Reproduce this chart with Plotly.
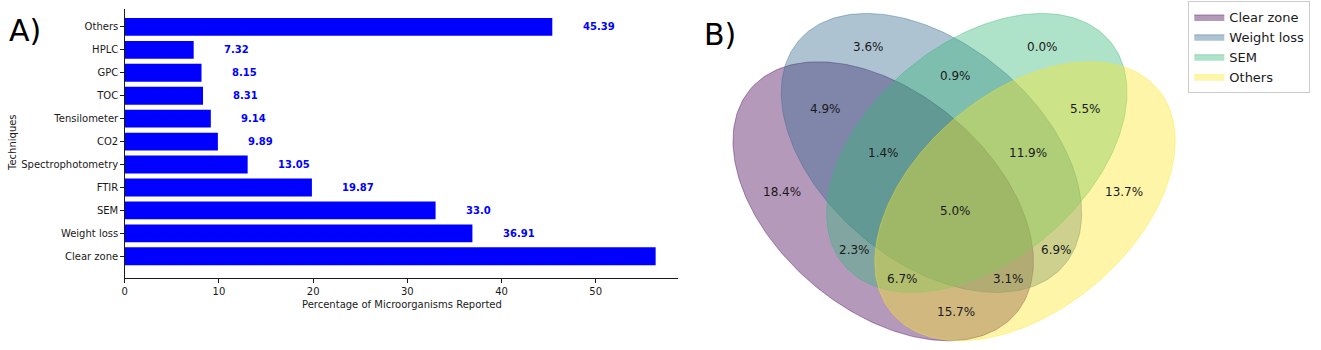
import numpy as np
import plotly.graph_objects as go

# ---- Panel A: techniques used to assess microbial degradation ----
techniques = ["Clear zone", "Weight loss", "SEM", "FTIR", "Spectrophotometry",
              "CO2", "Tensilometer", "TOC", "GPC", "HPLC", "Others"]
percent_reported = [56.36, 36.91, 33.0, 19.87, 13.05, 9.89, 9.14, 8.31, 8.15, 7.32, 45.39]

# ---- Panel B: overlap of the four most used technique groups ----
set_names = ["Clear zone", "Weight loss", "SEM", "Others"]
region_keys = ["1000", "0100", "0010", "0001", "1100", "1010", "1001", "0110",
               "0101", "0011", "1110", "1101", "1011", "0111", "1111"]
region_percent = [18.4, 3.6, 0.0, 13.7, 4.9, 2.3, 15.7, 0.9,
                  6.9, 5.5, 1.4, 3.1, 6.7, 11.9, 5.0]

# four-set ellipse layout in unit axes: (cx, cy, width, height, angle)
ellipse_geom = [(0.350, 0.400, 0.72, 0.45, 140.0),
                (0.450, 0.500, 0.72, 0.45, 140.0),
                (0.544, 0.500, 0.72, 0.45, 40.0),
                (0.644, 0.400, 0.72, 0.45, 40.0)]
region_pos = {"0001": (0.85, 0.42), "0010": (0.68, 0.72), "0011": (0.77, 0.59),
              "0100": (0.32, 0.72), "0101": (0.71, 0.30), "0110": (0.50, 0.66),
              "0111": (0.65, 0.50), "1000": (0.14, 0.42), "1001": (0.50, 0.17),
              "1010": (0.29, 0.30), "1011": (0.39, 0.24), "1100": (0.23, 0.59),
              "1101": (0.61, 0.24), "1110": (0.35, 0.50), "1111": (0.50, 0.38)}
set_rgb = [(68, 1, 84), (49, 104, 142), (53, 183, 121), (253, 231, 37)]

W, H = 1321, 350
FONT = "DejaVu Sans"

fig = go.Figure()

fig.add_trace(go.Bar(
    x=percent_reported, y=techniques, orientation="h",
    marker=dict(color="#0000ff", line=dict(width=0)),
    width=0.78, showlegend=False, hoverinfo="skip",
    xaxis="x", yaxis="y",
))

annotations = []
for name, v in zip(techniques, percent_reported):
    annotations.append(dict(
        x=v + 3, y=name, xref="x", yref="y", text=str(v), showarrow=False,
        xanchor="left", yanchor="middle",
        font=dict(family=FONT, size=10, color="#0000ff", weight="bold"),
    ))

t = np.linspace(0, 2 * np.pi, 240)
for name, (cx, cy, w, h, ang), rgb in zip(set_names, ellipse_geom, set_rgb):
    a = np.deg2rad(ang)
    ex = cx + (w / 2) * np.cos(t) * np.cos(a) - (h / 2) * np.sin(t) * np.sin(a)
    ey = cy + (w / 2) * np.cos(t) * np.sin(a) + (h / 2) * np.sin(t) * np.cos(a)
    rgba = "rgba(%d,%d,%d,0.4)" % rgb
    fig.add_trace(go.Scatter(
        x=ex, y=ey, mode="lines", fill="toself", fillcolor=rgba,
        line=dict(color=rgba, width=1), name=name, hoverinfo="skip",
        xaxis="x2", yaxis="y2",
    ))

for key, v in zip(region_keys, region_percent):
    px, py = region_pos[key]
    annotations.append(dict(
        x=px, y=py, xref="x2", yref="y2", text=f"{v:.1f}%", showarrow=False,
        xanchor="center", yanchor="middle",
        font=dict(family=FONT, size=12, color="#1a1a1a"),
    ))

# panel letters and axis titles
annotations += [
    dict(x=4 / W, y=1 - 31 / H, xref="paper", yref="paper", text="A)", showarrow=False,
         xanchor="left", yanchor="middle", font=dict(family=FONT, size=30, color="black")),
    dict(x=701 / W, y=1 - 34 / H, xref="paper", yref="paper", text="B)", showarrow=False,
         xanchor="left", yanchor="middle", font=dict(family=FONT, size=30, color="black")),
    dict(x=400 / W, y=1 - 304 / H, xref="paper", yref="paper",
         text="Percentage of Microorganisms Reported", showarrow=False,
         xanchor="center", yanchor="middle", font=dict(family=FONT, size=10, color="#1a1a1a")),
    dict(x=9 / W, y=1 - 142 / H, xref="paper", yref="paper", text="Techniques",
         textangle=-90, showarrow=False, xanchor="center", yanchor="middle",
         font=dict(family=FONT, size=10, color="#1a1a1a")),
]

fig.update_layout(
    width=W, height=H, margin=dict(l=0, r=0, t=0, b=0),
    paper_bgcolor="white", plot_bgcolor="white",
    font=dict(family=FONT, size=10, color="#1a1a1a"),
    xaxis=dict(domain=[122 / W, 676.5 / W], range=[0, 58.73],
               tickvals=[0, 10, 20, 30, 40, 50], ticks="outside", ticklen=3.5,
               tickcolor="#1a1a1a", showline=True, linecolor="#1a1a1a", linewidth=1,
               showgrid=False, zeroline=False, tickfont=dict(size=10), anchor="y"),
    yaxis=dict(domain=[1 - 278.3 / H, 1 - 9 / H], type="category",
               categoryorder="array", categoryarray=techniques, range=[-0.96, 10.78],
               ticks="outside", ticklen=3.5, tickcolor="#1a1a1a", showline=True,
               linecolor="#1a1a1a", linewidth=1, showgrid=False, zeroline=False,
               tickfont=dict(size=10), anchor="x"),
    xaxis2=dict(domain=[713 / W, 1196.5 / W], range=[0, 1], visible=False, anchor="y2"),
    yaxis2=dict(domain=[0, 1], range=[0.0924, 0.8163], visible=False, anchor="x2"),
    legend=dict(x=1188 / W, y=1 - 1 / H, xanchor="left", yanchor="top",
                bgcolor="white", bordercolor="#cccccc", borderwidth=1,
                font=dict(family=FONT, size=13, color="#1a1a1a"), tracegroupgap=0),
    annotations=annotations,
)

fig.write_html("out.html")
